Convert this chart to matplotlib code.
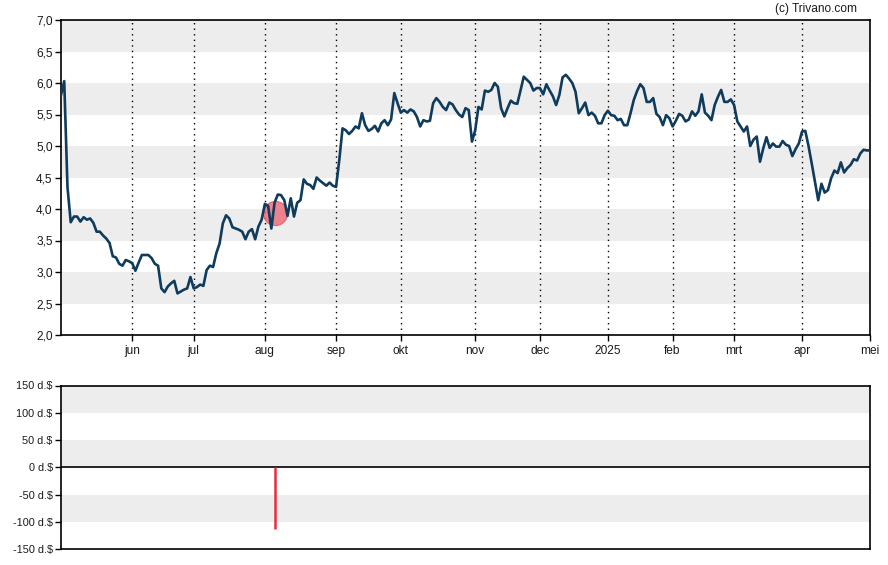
import matplotlib
matplotlib.use("Agg")
import matplotlib.pyplot as plt
from matplotlib.ticker import FixedLocator, NullLocator

plt.rcParams['font.family'] = ['Liberation Sans', 'DejaVu Sans']

# ---- data (x = trading-day index) ----
prices = [
    5.81, 6.03, 4.35, 3.79, 3.88, 3.88, 3.80, 3.87, 3.83, 3.85,
    3.78, 3.64, 3.64, 3.58, 3.53, 3.46, 3.25, 3.23, 3.13, 3.10,
    3.19, 3.17, 3.14, 3.02, 3.15, 3.27, 3.27, 3.27, 3.22, 3.13,
    3.10, 2.74, 2.68, 2.77, 2.82, 2.86, 2.66, 2.69, 2.72, 2.74,
    2.92, 2.74, 2.76, 2.80, 2.78, 3.03, 3.10, 3.08, 3.30, 3.45,
    3.77, 3.90, 3.85, 3.71, 3.69, 3.67, 3.64, 3.52, 3.64, 3.68,
    3.52, 3.72, 3.83, 4.08, 4.05, 3.69, 4.10, 4.23, 4.22, 4.14,
    3.89, 4.17, 3.88, 4.10, 4.14, 4.47, 4.40, 4.38, 4.32, 4.50,
    4.45, 4.41, 4.37, 4.42, 4.37, 4.35, 4.78, 5.28, 5.25, 5.19,
    5.24, 5.31, 5.28, 5.52, 5.33, 5.24, 5.27, 5.32, 5.23, 5.36,
    5.41, 5.33, 5.42, 5.84, 5.68, 5.53, 5.57, 5.53, 5.58, 5.55,
    5.46, 5.31, 5.41, 5.39, 5.40, 5.68, 5.76, 5.70, 5.62, 5.57,
    5.69, 5.66, 5.57, 5.50, 5.46, 5.60, 5.57, 5.07, 5.25, 5.62,
    5.58, 5.88, 5.86, 5.89, 6.00, 5.94, 5.60, 5.47, 5.60, 5.72,
    5.68, 5.67, 5.88, 6.10, 6.05, 6.00, 5.88, 5.92, 5.92, 5.82,
    5.98, 5.88, 5.79, 5.65, 5.81, 6.09, 6.13, 6.07, 6.00, 5.86,
    5.52, 5.60, 5.69, 5.49, 5.53, 5.48, 5.36, 5.36, 5.49, 5.56,
    5.49, 5.48, 5.41, 5.43, 5.33, 5.33, 5.52, 5.73, 5.87, 5.98,
    5.92, 5.70, 5.70, 5.76, 5.51, 5.46, 5.33, 5.49, 5.44, 5.31,
    5.40, 5.51, 5.48, 5.39, 5.42, 5.55, 5.48, 5.55, 5.82, 5.53,
    5.48, 5.41, 5.65, 5.78, 5.89, 5.70, 5.70, 5.74, 5.65, 5.39,
    5.31, 5.23, 5.31, 5.00, 5.10, 5.15, 4.75, 4.96, 5.14, 4.97,
    5.04, 4.99, 4.99, 5.08, 5.02, 5.00, 4.84, 4.95, 5.04, 5.23,
    5.24, 5.00, 4.72, 4.43, 4.14, 4.40, 4.26, 4.30, 4.49, 4.61,
    4.57, 4.74, 4.58, 4.65, 4.70, 4.79, 4.77, 4.88, 4.94, 4.93,
    4.93,
]
days = list(range(len(prices)))

month_ticks = [22, 41, 63, 85, 105, 128, 148, 169, 189, 208, 229, 250]
month_labels = ['jun', 'jul', 'aug', 'sep', 'okt', 'nov', 'dec', '2025',
                'feb', 'mrt', 'apr', 'mei']

price_ticks = [2.0, 2.5, 3.0, 3.5, 4.0, 4.5, 5.0, 5.5, 6.0, 6.5, 7.0]
price_labels = ['2,0', '2,5', '3,0', '3,5', '4,0', '4,5', '5,0', '5,5',
                '6,0', '6,5', '7,0']

event_day = [66]
event_price = [3.93]
event_amount = [-113]

amount_ticks = [-150, -100, -50, 0, 50, 100, 150]
amount_labels = ['-150 d.$', '-100 d.$', '-50 d.$', '0 d.$', '50 d.$',
                 '100 d.$', '150 d.$']

# ---- styling ----
line_color = '#0f3b5c'
band_color = '#ededed'
text_color = '#1a1a1a'
red = '#e52d3c'
xmin, xmax = 0, 250

fig = plt.figure(figsize=(8.88, 5.65), dpi=100)
ax = fig.add_axes([61/888, 1-335/565, (870-61)/888, (335-20)/565])
ax2 = fig.add_axes([61/888, 1-549/565, (870-61)/888, (549-385.5)/565])

# top panel
for lo in [2.5, 3.5, 4.5, 5.5, 6.5]:
    ax.axhspan(lo, lo + 0.5, color=band_color, zorder=0, lw=0)
for t in month_ticks[:-1]:
    ax.axvline(t, color='black', lw=1.0, ls=(0, (1, 3)), zorder=1)
ax.scatter(event_day, event_price, s=300, color='#ef6f7a', alpha=0.85,
           edgecolors='#e8505f', linewidths=0.8, zorder=2)
ax.plot(days, prices, color=line_color, lw=1.9, zorder=3,
        solid_joinstyle='round')
ax.set_xlim(xmin, xmax)
ax.set_ylim(2.0, 7.0)
ax.yaxis.set_major_locator(FixedLocator(price_ticks))
ax.set_yticklabels(price_labels)
ax.xaxis.set_major_locator(FixedLocator(month_ticks))
ax.set_xticklabels(month_labels)
ax.tick_params(axis='both', length=4, width=1, colors='black',
               labelcolor=text_color, labelsize=8.6, pad=2)
ax.tick_params(axis='x', pad=3)
for s in ax.spines.values():
    s.set_linewidth(1.2)
    s.set_color('black')

# bottom panel
for lo in [-100, 0, 100]:
    ax2.axhspan(lo, lo + 50, color=band_color, zorder=0, lw=0)
ax2.axhline(0, color='black', lw=1.2, zorder=2)
ax2.vlines(event_day, 0, event_amount, color=red, lw=1.8, zorder=3)
ax2.set_xlim(xmin, xmax)
ax2.set_ylim(-150, 150)
ax2.yaxis.set_major_locator(FixedLocator(amount_ticks))
ax2.set_yticklabels(amount_labels)
ax2.xaxis.set_major_locator(NullLocator())
ax2.tick_params(axis='y', length=4, width=1, colors='black',
                labelcolor=text_color, labelsize=7.8, pad=2)
for s in ax2.spines.values():
    s.set_linewidth(1.2)
    s.set_color('black')

fig.text(857/888, 1-9/565, '(c) Trivano.com', ha='right', va='center',
         fontsize=8.6, color=text_color)

fig.savefig('out.png', dpi=100)
